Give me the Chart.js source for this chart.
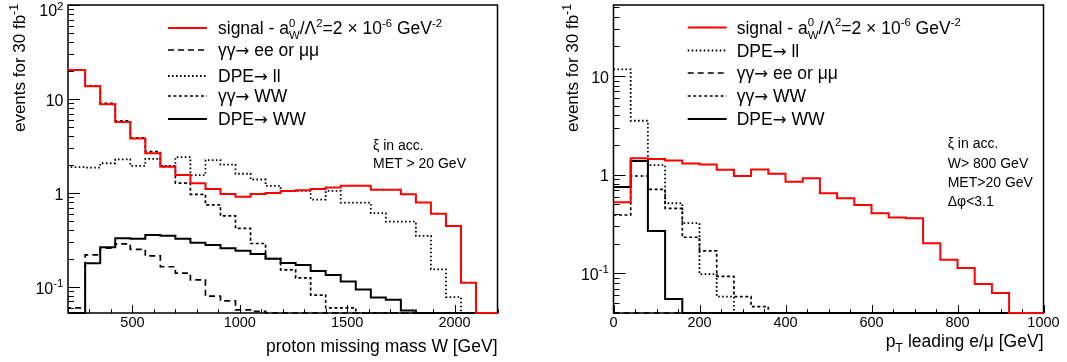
<!DOCTYPE html>
<html>
<head>
<meta charset="utf-8">
<title>W and pT distributions</title>
<script src="https://cdn.jsdelivr.net/npm/chart.js@4.4.0/dist/chart.umd.min.js"></script>
<style>
  html, body { margin: 0; padding: 0; background: #fff; }
  .panel { position: absolute; top: 0; height: 362px; }
  #leftPanel { left: 0; width: 533px; }
  #rightPanel { left: 533px; width: 534px; }
</style>
</head>
<body>
<div class="panel" id="leftPanel"><canvas id="massChart"></canvas></div>
<div class="panel" id="rightPanel"><canvas id="ptChart"></canvas></div>
<script>
// proton missing mass W : lower bin edges, 70 GeV bins
const massBins = [140, 210, 280, 350, 420, 490, 560, 630, 700, 770, 840, 910, 980, 1050, 1120,
  1190, 1260, 1330, 1400, 1470, 1540, 1610, 1680, 1750, 1820, 1890, 1960, 2030, 2100, 2170];
const massBinWidth = 70;
const massSignal = [20.3, 20.3, 13.7, 8.8, 5.7, 3.8, 2.64, 1.9, 1.55, 1.27, 1.10, 0.975, 0.91, 0.975, 1.0,
  1.05, 1.07, 1.10, 1.14, 1.19, 1.19, 1.08, 1.08, 0.97, 0.79, 0.60, 0.445, 0.111, 0, 0];
const massGGll = [0.06, 0.06, 0.219, 0.258, 0.287, 0.251, 0.214, 0.164, 0.14, 0.119, 0.08, 0.071, 0.057, 0.055, 0,
  0, 0, 0, 0, 0, 0, 0, 0, 0, 0, 0, 0, 0, 0, 0];
const massDPEll = [1.9, 1.88, 1.86, 2.07, 2.28, 1.94, 2.3, 1.94, 2.4, 1.55, 2.24, 2.0, 1.6, 1.39, 1.19,
  1.05, 1.05, 0.85, 1.05, 0.79, 0.79, 0.61, 0.495, 0.495, 0.349, 0.154, 0.078, 0, 0, 0];
const massGGWW = [20.3, 20.3, 13.8, 9.0, 5.85, 3.85, 2.75, 1.92, 1.27, 0.968, 0.745, 0.57, 0.42, 0.29, 0.20,
  0.152, 0.125, 0.082, 0.06, 0.06, 0, 0, 0, 0, 0, 0, 0, 0, 0, 0];
const massDPEWW = [0, 0, 0.179, 0.264, 0.33, 0.325, 0.357, 0.35, 0.325, 0.296, 0.28, 0.258, 0.242, 0.224, 0.2,
  0.18, 0.171, 0.148, 0.134, 0.114, 0.094, 0.077, 0.073, 0.056, 0, 0, 0, 0, 0, 0];
const massTicks = [500, 1000, 1500, 2000];
const massDecades = [0.1, 1, 10, 100];

// leading lepton pT : lower bin edges, 40 GeV bins
const ptBins = [0, 40, 80, 120, 160, 200, 240, 280, 320, 360, 400, 440, 480, 520, 560,
  600, 640, 680, 720, 760, 800, 840, 880, 920, 960];
const ptBinWidth = 40;
const ptSignal = [0.525, 1.47, 1.44, 1.39, 1.30, 1.27, 1.12, 0.97, 1.13, 1.02, 0.85, 0.92, 0.65, 0.577, 0.493,
  0.406, 0.367, 0.361, 0.202, 0.137, 0.113, 0.078, 0.063, 0, 0];
const ptDPEll = [11.7, 3.52, 1.25, 0.513, 0.322, 0.098, 0.058, 0, 0, 0, 0, 0, 0, 0, 0,
  0, 0, 0, 0, 0, 0, 0, 0, 0, 0];
const ptGGll = [0, 0, 0, 0, 0, 0, 0, 0, 0, 0, 0, 0, 0, 0, 0,
  0, 0, 0, 0, 0, 0, 0, 0, 0, 0];
const ptGGWW = [0.39, 0.97, 0.71, 0.456, 0.232, 0.169, 0.093, 0.058, 0.046, 0, 0, 0, 0, 0, 0,
  0, 0, 0, 0, 0, 0, 0, 0, 0, 0];
const ptDPEWW = [0.75, 1.38, 0.269, 0.055, 0, 0, 0, 0, 0, 0, 0, 0, 0, 0, 0,
  0, 0, 0, 0, 0, 0, 0, 0, 0, 0];
const ptTicks = [0, 200, 400, 600, 800, 1000];
const ptDecades = [0.1, 1, 10];

const signalName = [{ t: "signal - a" }, { sup: "0", sub: "W" }, { t: "/Λ" }, { sup: "2" },
  { t: "=2 × 10" }, { sup: "-6" }, { t: " GeV" }, { sup: "-2" }];
const ggllName = [{ t: "γγ" }, { a: "→" }, { t: " ee or μμ" }];
const dpellName = [{ t: "DPE" }, { a: "→" }, { t: " ll" }];
const ggwwName = [{ t: "γγ" }, { a: "→" }, { t: " WW" }];
const dpewwName = [{ t: "DPE" }, { a: "→" }, { t: " WW" }];

const FONT = '"Liberation Sans", Arial, Helvetica, sans-serif';
const ARROW_FONT = '"DejaVu Sans", sans-serif';
Chart.defaults.font.family = FONT;

const lineStyles = {
  signal: { borderColor: "#ff0000", borderWidth: 2, borderDash: [] },
  ggll: { borderColor: "#000000", borderWidth: 1.7, borderDash: [6, 4] },
  dpell: { borderColor: "#000000", borderWidth: 1.8, borderDash: [1.6, 2.4] },
  ggww: { borderColor: "#000000", borderWidth: 1.7, borderDash: [3, 2.5] },
  dpeww: { borderColor: "#000000", borderWidth: 2, borderDash: [] }
};

function font(size, family) {
  return size + "px " + (family || FONT);
}

// histogram contents -> step points; empty bins sit on the axis floor like ROOT does
function histPoints(bins, width, values, floor) {
  const points = bins.map((low, i) => ({ x: low, y: values[i] > 0 ? values[i] : floor }));
  points.push({ x: bins[bins.length - 1] + width, y: points[points.length - 1].y });
  return points;
}

function makeDataset(name, style, bins, width, values, floor) {
  return {
    label: name.map((p) => p.t || p.a || "").join(""),
    richLabel: name,
    data: histPoints(bins, width, values, floor),
    stepped: true,
    fill: false,
    pointRadius: 0,
    pointHoverRadius: 0,
    borderCapStyle: "butt",
    borderJoinStyle: "miter",
    clip: { left: 0, top: 0, right: 0, bottom: 2 },
    ...style
  };
}

// measure or draw a list of text parts: plain (t), arrow glyph (a), sup/sub pairs
function layoutRich(ctx, parts, x, baseline, size, draw, ratio) {
  let cx = x;
  const small = size * (ratio || 0.72);
  parts.forEach((p) => {
    if (p.t !== undefined || p.a !== undefined) {
      const txt = p.t !== undefined ? p.t : p.a;
      ctx.font = p.a !== undefined ? font(size * 0.95, ARROW_FONT) : font(size);
      if (draw) ctx.fillText(txt, cx, baseline);
      cx += ctx.measureText(txt).width;
    } else {
      ctx.font = font(small);
      let step = 0;
      if (p.sup) {
        if (draw) ctx.fillText(p.sup, cx, baseline - size * 0.42);
        step = ctx.measureText(p.sup).width;
      }
      if (p.sub) {
        if (draw) ctx.fillText(p.sub, cx, baseline + size * 0.28);
        step = Math.max(step, ctx.measureText(p.sub).width);
      }
      cx += step;
    }
  });
  return cx - x;
}

function drawRich(ctx, parts, x, baseline, size, align, ratio) {
  ctx.textAlign = "left";
  ctx.textBaseline = "alphabetic";
  ctx.fillStyle = "#000";
  const w = layoutRich(ctx, parts, 0, 0, size, false, ratio);
  layoutRich(ctx, parts, align === "right" ? x - w : x, baseline, size, true, ratio);
}

function decadeLabel(v) {
  const e = Math.round(Math.log10(v));
  if (e === 0) return [{ t: "1" }];
  if (e === 1) return [{ t: "10" }];
  return [{ t: "10" }, { sup: String(e) }];
}

const rootFrame = {
  id: "rootFrame",
  beforeDatasetsDraw(chart, args, o) {
    const { ctx, chartArea: a } = chart;
    const x = chart.scales.x;
    const y = chart.scales.y;
    ctx.save();
    ctx.strokeStyle = "#000";
    ctx.lineWidth = 1;
    ctx.beginPath();
    for (let v = o.xMinorStart; v <= x.max; v += o.xMinorStep) {
      const px = Math.round(x.getPixelForValue(v)) + 0.5;
      const len = v % o.xMajorStep === 0 ? 8 : 4;
      ctx.moveTo(px, a.bottom);
      ctx.lineTo(px, a.bottom - len);
    }
    for (let e = -2; e <= 2; e++) {
      for (let m = 1; m <= 9; m++) {
        const v = m * Math.pow(10, e);
        if (v < y.min || v > y.max) continue;
        const py = Math.round(y.getPixelForValue(v)) + 0.5;
        ctx.moveTo(a.left, py);
        ctx.lineTo(a.left + (m === 1 ? 12 : 6), py);
      }
    }
    ctx.stroke();
    ctx.lineWidth = 1.5;
    ctx.strokeRect(a.left, a.top, a.right - a.left, a.bottom - a.top);
    ctx.restore();
  },
  afterDatasetsDraw(chart, args, o) {
    const { ctx, chartArea: a } = chart;
    const y = chart.scales.y;
    ctx.save();

    // y tick labels with real superscripts
    o.decades.forEach((v) => {
      const py = Math.max(y.getPixelForValue(v) + 1, a.top + 5.5);
      drawRich(ctx, decadeLabel(v), a.left - 4.5, py + 16 * 0.36, 16, "right");
    });

    // legend
    o.legendOrder.forEach((idx, row) => {
      const ds = chart.data.datasets[idx];
      const ly = o.legendRows[row];
      ctx.strokeStyle = ds.borderColor;
      ctx.lineWidth = ds.borderWidth;
      ctx.setLineDash(ds.borderDash);
      ctx.beginPath();
      ctx.moveTo(o.legendLine[0], ly);
      ctx.lineTo(o.legendLine[1], ly);
      ctx.stroke();
      ctx.setLineDash([]);
      drawRich(ctx, ds.richLabel, o.legendText, ly + 17.5 * 0.36, 17.5, "left", 0.65);
    });

    // selection notes
    o.notes.forEach((txt, i) => {
      drawRich(ctx, [{ t: txt }], o.notesX, o.notesY[i] + 14 * 0.36, 14, "left");
    });

    // axis titles
    drawRich(ctx, o.xTitle, a.right, o.xTitleBaseline, 17.5, "right");
    ctx.translate(o.yTitleBaseline, a.top - 1);
    ctx.rotate(-Math.PI / 2);
    drawRich(ctx, [{ t: "events for 30 fb" }, { sup: "-1" }], 0, 0, 17, "right");
    ctx.restore();
  }
};

function buildChart(canvasId, cfg) {
  const floor = cfg.yMin;
  const datasets = [
    makeDataset(signalName, lineStyles.signal, cfg.bins, cfg.width, cfg.signal, floor),
    makeDataset(ggllName, lineStyles.ggll, cfg.bins, cfg.width, cfg.ggll, floor),
    makeDataset(dpellName, lineStyles.dpell, cfg.bins, cfg.width, cfg.dpell, floor),
    makeDataset(ggwwName, lineStyles.ggww, cfg.bins, cfg.width, cfg.ggww, floor),
    makeDataset(dpewwName, lineStyles.dpeww, cfg.bins, cfg.width, cfg.dpeww, floor)
  ];

  return new Chart(document.getElementById(canvasId), {
    type: "line",
    data: { datasets },
    options: {
      animation: false,
      responsive: true,
      maintainAspectRatio: false,
      devicePixelRatio: 1,
      events: [],
      layout: { padding: { left: 0, top: 5, right: cfg.padRight, bottom: 0 } },
      plugins: {
        legend: { display: false },
        tooltip: { enabled: false },
        rootFrame: cfg.frame
      },
      scales: {
        x: {
          type: "linear",
          min: cfg.xMin,
          max: cfg.xMax,
          afterBuildTicks: (scale) => {
            scale.ticks = cfg.xTicks.map((v) => ({ value: v }));
          },
          afterFit: (scale) => {
            scale.height = 49;
          },
          grid: { display: false, drawTicks: false },
          border: { display: false },
          ticks: {
            color: "#000",
            font: { size: 14.5 },
            padding: 1,
            maxRotation: 0,
            autoSkip: false,
            callback: (v) => String(v)
          }
        },
        y: {
          type: "logarithmic",
          min: cfg.yMin,
          max: cfg.yMax,
          afterFit: (scale) => {
            scale.width = cfg.axisWidth;
          },
          grid: { display: false, drawTicks: false },
          border: { display: false },
          ticks: { display: false }
        }
      }
    },
    plugins: [rootFrame]
  });
}

buildChart("massChart", {
  bins: massBins,
  width: massBinWidth,
  signal: massSignal,
  ggll: massGGll,
  dpell: massDPEll,
  ggww: massGGWW,
  dpeww: massDPEWW,
  xMin: 200,
  xMax: 2200,
  yMin: 0.0528,
  yMax: 100,
  xTicks: massTicks,
  axisWidth: 68,
  padRight: 35.5,
  frame: {
    xMinorStart: 200,
    xMinorStep: 100,
    xMajorStep: 500,
    decades: massDecades,
    legendOrder: [0, 1, 2, 3, 4],
    legendRows: [28, 50, 76, 96, 119],
    legendLine: [168, 207],
    legendText: 218,
    notes: ["ξ in acc.", "MET > 20 GeV"],
    notesX: 373,
    notesY: [145, 163],
    xTitle: [{ t: "proton missing mass W [GeV]" }],
    xTitleBaseline: 352,
    yTitleBaseline: 25
  }
});

buildChart("ptChart", {
  bins: ptBins,
  width: ptBinWidth,
  signal: ptSignal,
  ggll: ptGGll,
  dpell: ptDPEll,
  ggww: ptGGWW,
  dpeww: ptDPEWW,
  xMin: 0,
  xMax: 1000,
  yMin: 0.0396,
  yMax: 52.5,
  xTicks: ptTicks,
  axisWidth: 80.5,
  padRight: 23.5,
  frame: {
    xMinorStart: 0,
    xMinorStep: 50,
    xMajorStep: 200,
    decades: ptDecades,
    legendOrder: [0, 2, 1, 3, 4],
    legendRows: [27.5, 50.5, 73, 96, 119],
    legendLine: [154.7, 193.7],
    legendText: 203.7,
    notes: ["ξ in acc.", "W> 800 GeV", "MET>20 GeV", "Δφ<3.1"],
    notesX: 414.7,
    notesY: [143, 162.5, 181.5, 200.5],
    xTitle: [{ t: "p" }, { sub: "T" }, { t: " leading e/μ [GeV]" }],
    xTitleBaseline: 347,
    yTitleBaseline: 45
  }
});
</script>
</body>
</html>
